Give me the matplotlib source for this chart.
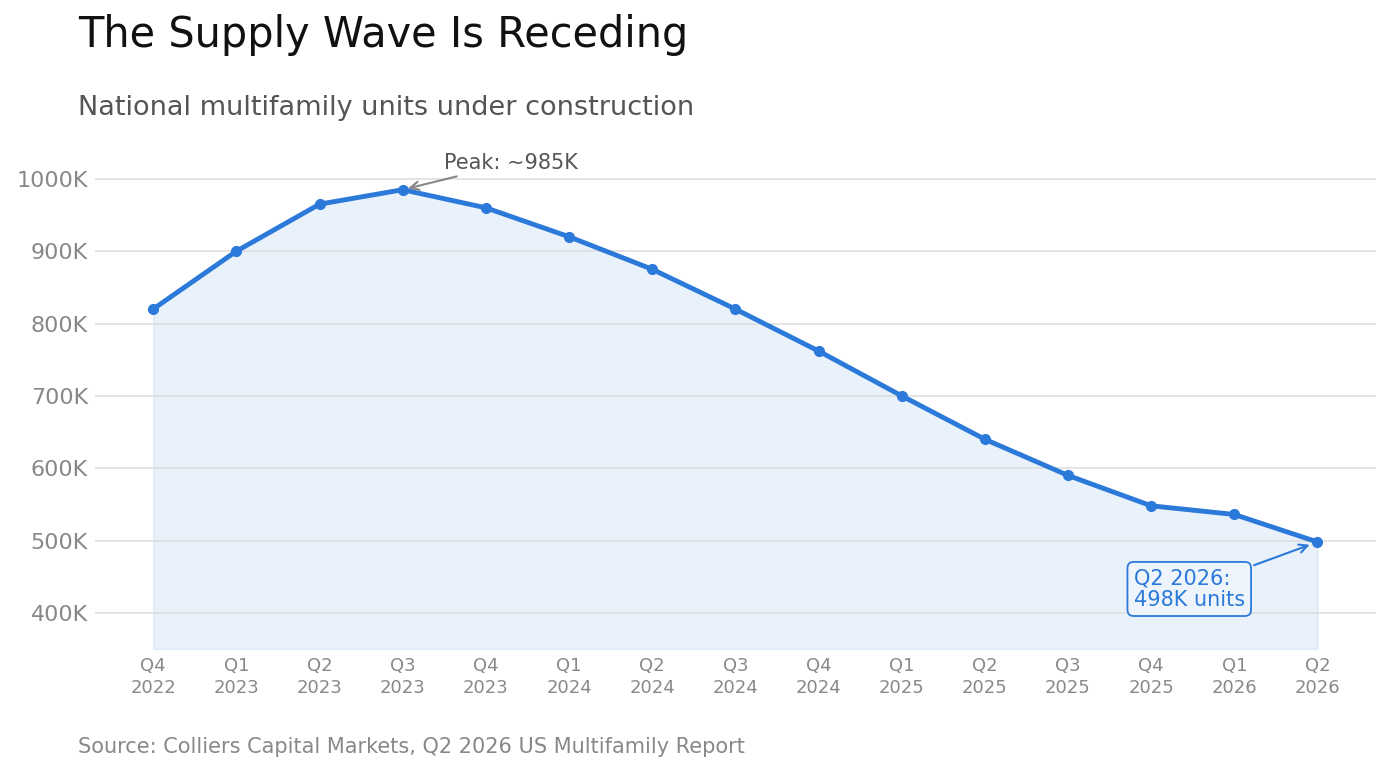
import matplotlib
matplotlib.use("Agg")
import matplotlib.pyplot as plt
from matplotlib.ticker import FuncFormatter

quarters = ["Q4\n2022", "Q1\n2023", "Q2\n2023", "Q3\n2023", "Q4\n2023",
            "Q1\n2024", "Q2\n2024", "Q3\n2024", "Q4\n2024",
            "Q1\n2025", "Q2\n2025", "Q3\n2025", "Q4\n2025",
            "Q1\n2026", "Q2\n2026"]
units_k = [820, 900, 965, 985, 960, 920, 875, 820, 762, 700, 640, 590, 548, 536, 498]
y_ticks = [400, 500, 600, 700, 800, 900, 1000]

BLUE = "#2b79d9"
plt.rcParams['font.family'] = ['DejaVu Sans']

fig = plt.figure(figsize=(13.91, 7.73), dpi=100)
ax = fig.add_axes([0.0683, 0.1604, 0.9207, 0.655])

x = list(range(len(units_k)))
ax.set_ylim(350, 1050)
base = ax.get_ylim()[0]
ax.fill_between(x, units_k, base, facecolor=BLUE, alpha=0.10,
                edgecolor=BLUE, linewidth=1.2, zorder=1)
ax.plot(x, units_k, color=BLUE, lw=3.5, marker='o', markersize=7, zorder=3)

ax.set_xticks(x)
ax.set_xticklabels(quarters, fontsize=13, color="#888888", linespacing=1.25)
ax.set_yticks(y_ticks)
ax.yaxis.set_major_formatter(FuncFormatter(lambda v, p: f"{int(v)}K"))
for lab in ax.get_yticklabels():
    lab.set_fontsize(16)
    lab.set_color("#888888")
ax.tick_params(axis='both', length=0)
ax.tick_params(axis='y', pad=5)
ax.tick_params(axis='x', pad=6)
ax.grid(axis='y', color="#dcdcdc", lw=1.1, zorder=2)
ax.set_axisbelow(False)
for s in ax.spines.values():
    s.set_visible(False)

# peak annotation
pk = units_k.index(max(units_k))
ax.annotate(f"Peak: ~{max(units_k)}K", xy=(x[pk], units_k[pk]),
            xytext=(x[pk] + 0.5, units_k[pk] + 37), fontsize=15, color="#555555",
            ha='left', va='center',
            arrowprops=dict(arrowstyle='->', color="#888888", lw=1.5,
                            shrinkA=2, shrinkB=4), zorder=4)

# last point annotation
ax.annotate(f"{quarters[-1].replace(chr(10), ' ')}:\n{units_k[-1]}K units",
            xy=(x[-1], units_k[-1]), xytext=(x[-1] - 2.21, units_k[-1] - 65),
            fontsize=15, color=BLUE, ha='left', va='center', linespacing=1.1,
            bbox=dict(boxstyle='round,pad=0.3', fc="#eef4fc", ec=BLUE, lw=1.3),
            arrowprops=dict(arrowstyle='->', color=BLUE, lw=1.5,
                            shrinkA=2, shrinkB=6), zorder=4)

fig.text(0.056, 0.955, "The Supply Wave Is Receding", fontsize=29.9,
         color="#111111", ha='left', va='center')
fig.text(0.056, 0.86, "National multifamily units under construction",
         fontsize=19.5, color="#555555", ha='left', va='center')
fig.text(0.056, 0.033, "Source: Colliers Capital Markets, Q2 2026 US Multifamily Report",
         fontsize=15, color="#888888", ha='left', va='center')

fig.savefig("out.png", dpi=100)
